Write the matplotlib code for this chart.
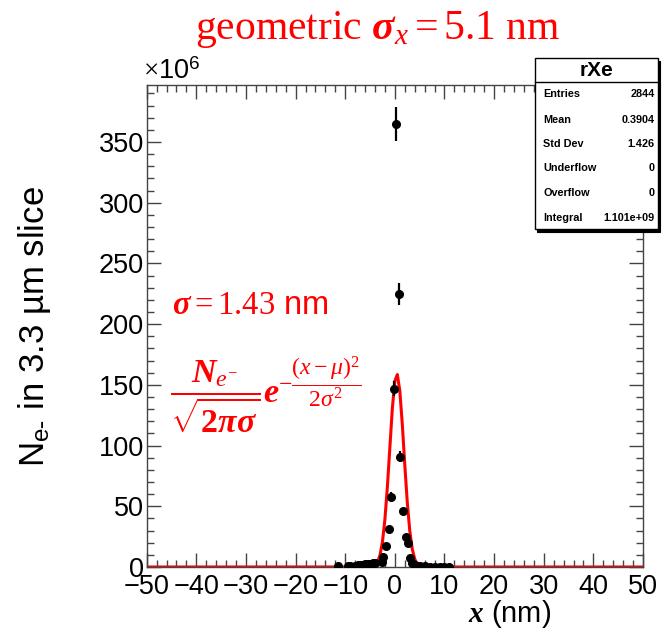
import numpy as np
import matplotlib
matplotlib.use("Agg")
import matplotlib.pyplot as plt
from matplotlib.patches import Rectangle
from matplotlib.ticker import MultipleLocator

# Data (x in nm, counts in units of 1e6)
x_pts = [-11.5, -9.5, -9.0, -8.0, -7.5, -7.0, -6.5, -6.0, -5.5, -5.0, -4.5, -4.0,
         -2.5, -2.3, -1.8, -1.2, -0.8, -0.16, 0.24, 0.78, 1.1, 1.7, 2.25, 2.6,
         3.06, 3.5, 4.1, 4.6, 5.0, 6.0, 7.0, 8.0, 9.0, 10.0, 11.0]
y_pts = [0.5, 0.8, 1.0, 1.2, 1.5, 1.8, 2.0, 2.2, 2.5, 2.8, 3.0, 3.0,
         4.4, 8.5, 17, 31, 58, 147, 365, 225, 91, 46, 25, 20,
         7.5, 3.5, 2.0, 1.0, 0.8, 0.5, 0.4, 0.3, 0.3, 0.3, 0.3]
y_err = [0.3, 0.3, 0.3, 0.3, 0.4, 0.4, 0.4, 0.4, 0.5, 0.5, 0.5, 0.5,
         0.6, 1.0, 1.5, 2.5, 3.5, 6.0, 14.0, 9.0, 4.5, 3.0, 2.0, 2.0,
         1.0, 0.6, 0.5, 0.4, 0.4, 0.3, 0.3, 0.3, 0.3, 0.3, 0.3]

# fitted gaussian drawn in red
fit_mu = 0.39
fit_sigma = 1.43
fit_amplitude = 159.0

stats_names = ["Entries", "Mean", "Std Dev", "Underflow", "Overflow", "Integral"]
stats_values = ["2844", "0.3904", "1.426", "0", "0", "1.101e+09"]

plt.rcParams["font.family"] = ["Liberation Sans", "DejaVu Sans"]
plt.rcParams["mathtext.fontset"] = "custom"
plt.rcParams["mathtext.rm"] = "Liberation Serif"
plt.rcParams["mathtext.it"] = "Liberation Serif:italic"
plt.rcParams["mathtext.bf"] = "Liberation Serif:bold"
plt.rcParams["mathtext.bfit"] = "Liberation Serif:bold:italic"
plt.rcParams["mathtext.sf"] = "Liberation Sans"

W, H = 667, 632
fig = plt.figure(figsize=(W / 100, H / 100), dpi=100)


def fx(px):
    return px / W


def fy(py):
    return 1 - py / H


ax = fig.add_axes([fx(146.7), fy(567), fx(643) - fx(146.7), fy(85) - fy(567)])

xf = np.linspace(-50, 50, 201)
yf = fit_amplitude * np.exp(-(xf - fit_mu) ** 2 / (2 * fit_sigma ** 2))
ax.plot(xf, yf, color="red", lw=2.2, zorder=2)

ax.errorbar(x_pts, y_pts, yerr=y_err, fmt="o", color="black", ms=5.5,
            elinewidth=1.6, capsize=0, zorder=3)

ax.set_xlim(-50, 50)
ax.set_ylim(0, 397)
ax.xaxis.set_major_locator(MultipleLocator(10))
ax.xaxis.set_minor_locator(MultipleLocator(2))
ax.yaxis.set_major_locator(MultipleLocator(50))
ax.yaxis.set_minor_locator(MultipleLocator(10))
ax.tick_params(which="both", direction="in", top=True, right=True,
               color="#444444", labelsize=19.5, width=1)
ax.tick_params(which="major", length=10)
ax.tick_params(which="minor", length=5)
ax.tick_params(axis="x", pad=5)
ax.tick_params(axis="y", pad=2)
for s in ax.spines.values():
    s.set_color("#444444")
    s.set_linewidth(1)

# axis texts
fig.text(fx(143), fy(72), r"$\times$10$^{\mathsf{6}}$", fontsize=19.5,
         ha="left", va="center")
fig.text(fx(35), fy(327), r"N$_{\mathsf{e}\text{-}}$ in 3.3 µm slice", fontsize=25,
         rotation=90, ha="center", va="center")
fig.text(fx(510), fy(614), r"$\mathbfit{x}$ (nm)", fontsize=21,
         ha="center", va="center")

# red annotations
fig.text(fx(378), fy(30), r"$\mathrm{geometric}\ \mathbfit{\sigma}_{\mathit{x}} = \mathrm{5.1\ nm}$",
         fontsize=30, color="red", ha="center", va="center")
fig.text(fx(172), fy(305), r"$\mathbfit{\sigma} = \mathrm{1.43}$ nm", fontsize=23.5,
         color="red", ha="left", va="center")
fig.text(fx(170), fy(395),
         r"$\dfrac{\mathbfit{N}_{e^{-}}}{\sqrt{\mathbf{2}\mathbfit{\pi\sigma}}}\mathbfit{e}^{-\dfrac{(x-\mu)^2}{2\sigma^2}}$",
         fontsize=24.5, color="red", ha="left", va="center")

# stats box
bl, br, bt, bb, bd = 535, 658, 58, 229, 82
fig.patches.append(Rectangle((fx(bl + 2), fy(bb + 3)), fx(br) - fx(bl), fy(bt) - fy(bb),
                             transform=fig.transFigure, facecolor="black",
                             edgecolor="black", lw=0.8, zorder=5))
fig.patches.append(Rectangle((fx(bl), fy(bb)), fx(br) - fx(bl), fy(bt) - fy(bb),
                             transform=fig.transFigure, facecolor="white",
                             edgecolor="black", lw=1, zorder=6))
fig.lines.append(plt.Line2D([fx(bl), fx(br)], [fy(bd), fy(bd)], transform=fig.transFigure,
                            color="black", lw=1, zorder=7))
fig.text(fx((bl + br) / 2), fy(71), "rXe", fontsize=15, fontweight="bold",
         ha="center", va="center", zorder=8)
row_y = [94, 120, 144, 168, 193, 218]
for name, val, ry in zip(stats_names, stats_values, row_y):
    fig.text(fx(543), fy(ry), name, fontsize=7.8, fontweight="bold",
             ha="left", va="center", zorder=8)
    fig.text(fx(655), fy(ry), val, fontsize=7.8, fontweight="bold",
             ha="right", va="center", zorder=8)

plt.savefig("out.png", dpi=100)
